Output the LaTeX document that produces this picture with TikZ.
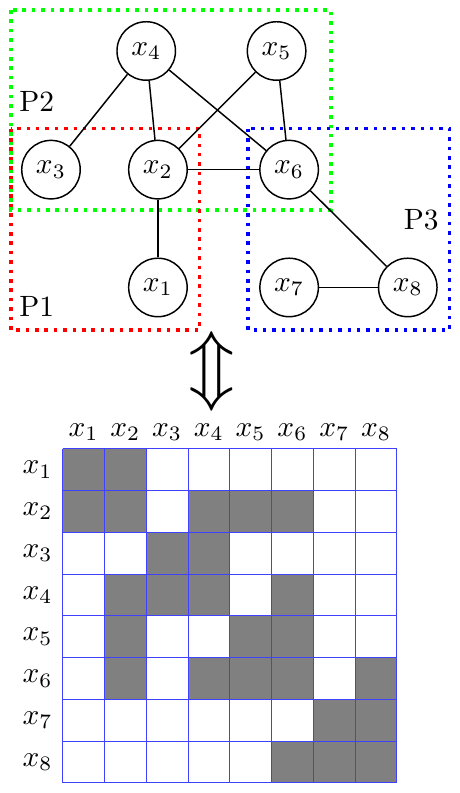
\documentclass[tikz,border=0pt]{standalone}
\usepackage{amsmath}
\usepackage{graphicx}
\usetikzlibrary{positioning, calc}
\tikzset{
  part/.style={dotted, line width=1.2pt},
  cell/.style={draw=blue!75, line width=0.35pt},
}

\begin{document}
\begin{tikzpicture}[
  x=1cm,y=1cm,
  var/.style={circle, draw, line width=0.5pt, minimum size=0.7cm, inner sep=0pt},
  link/.style={line width=0.5pt},
  lab/.style={inner sep=1pt}
]
\useasboundingbox (0,0) rectangle (5.5,-9.49);

% ---- Partitions ----
\draw[part, draw=green] (0.13,-0.12) rectangle (3.96,-2.51);
\draw[part, draw=red]   (0.13,-1.54) rectangle (2.39,-3.95);
\draw[part, draw=blue]  (2.97,-1.54) rectangle (5.38,-3.95);
\node[lab] (p2) at (0.44,-1.22) {P2};
\node[lab] (p1) at (0.44,-3.67) {P1};
\node[lab] (p3) at (5.04,-2.63) {P3};

% ---- Variables ----
\node[var, fill=white] (x4) at (1.75,-0.61) {$x_4$};
\node[var, fill=white] (x5) at (3.31,-0.61) {$x_5$};
\node[var, fill=white] (x3) at (0.61,-2.03) {$x_3$};
\node[var, fill=white] (x2) at (1.89,-2.03) {$x_2$};
\node[var, fill=white] (x6) at (3.46,-2.03) {$x_6$};
\node[var, fill=white] (x1) at (1.89,-3.44) {$x_1$};
\node[var, fill=white] (x7) at (3.46,-3.44) {$x_7$};
\node[var, fill=white] (x8) at (4.88,-3.44) {$x_8$};

% ---- Edges ----
\foreach \a/\b in {x4/x3, x4/x2, x4/x6, x5/x2, x5/x6, x2/x6, x2/x1, x6/x8, x7/x8} {
  \draw[link] (\a) -- (\b);
}

% ---- Equivalence ----
\node (iff) at (2.54,-4.44) {\scalebox{2.6}{$\Updownarrow$}};

% ---- Adjacency matrix ----
\coordinate (M) at (0.75,-5.37);
\foreach \r/\cols in {1/{1,2}, 2/{1,2,4,5,6}, 3/{3,4}, 4/{2,3,4,6},
                      5/{2,5,6}, 6/{2,4,5,6,8}, 7/{7,8}, 8/{6,7,8}} {
  \foreach \c in \cols {
    \fill[gray] ($(M)+(0.5*\c-0.5,-0.5*\r)$) rectangle ++(0.5,0.5);
  }
}
\foreach \i in {0,...,8} {
  \draw[cell] ($(M)+(0.5*\i,0)$) -- ++(0,-4);
  \draw[cell] ($(M)+(0,-0.5*\i)$) -- ++(4,0);
}
\foreach \i in {1,...,8} {
  \node[lab] (c\i) at ($(M)+(0.5*\i-0.25,0.2)$) {$x_{\i}$};
  \node[lab] (r\i) at ($(M)+(-0.3,-0.5*\i+0.25)$) {$x_{\i}$};
}

\end{tikzpicture}
\end{document}
